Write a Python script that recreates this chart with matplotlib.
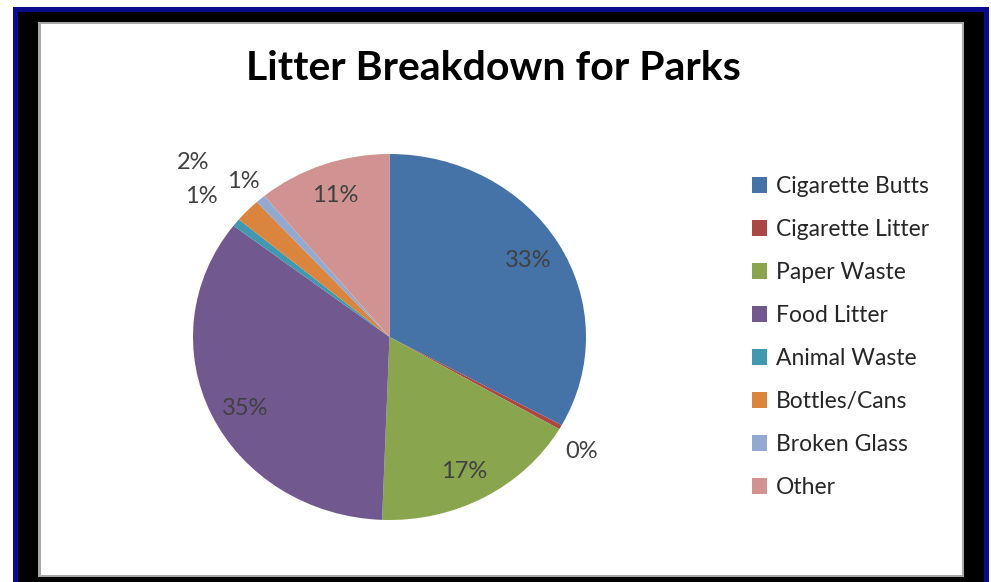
import matplotlib
matplotlib.use("Agg")
import matplotlib.pyplot as plt
from matplotlib.patches import Rectangle
import numpy as np

categories = ["Cigarette Butts", "Cigarette Litter", "Paper Waste", "Food Litter",
              "Animal Waste", "Bottles/Cans", "Broken Glass", "Other"]
values = [33.0, 0.4, 17.2, 34.8, 0.7, 2.1, 0.8, 11.0]
colors = ["#4572A7", "#AA4643", "#89A54E", "#71588F",
          "#4198AF", "#DB843D", "#93A9CF", "#D19392"]
title = "Litter Breakdown for Parks"

# label radii and angle nudges (style)
label_r = [0.82, 1.16, 0.83, 0.83, 1.23, 1.38, 1.13, 0.82]
label_nudge = [0, -3, -1.5, 2.7, 0, 0, 0, 0]

W, H = 991, 582
fig = plt.figure(figsize=(W / 100, H / 100), dpi=100)
fig.patch.set_facecolor("white")

def prect(x0, y0, x1, y1, color, z):
    r = Rectangle((x0 / W, 1 - y1 / H), (x1 - x0) / W, (y1 - y0) / H,
                  transform=fig.transFigure, facecolor=color, edgecolor="none", zorder=z)
    fig.add_artist(r)

prect(13, 7, 989, 600, "#0A0A8C", 0)
prect(18, 12, 984, 600, "#000000", 0.1)
prect(38, 22, 964, 577, "#A8A8A8", 0.2)
prect(41, 24, 962, 575, "#FFFFFF", 0.3)

# pie axes: center (389.5, 337), rx 196.5, ry 183
cx, cy, rx, ry = 389.5, 337.0, 196.5, 183.0
L = 1.3
aw, ah = 2 * L * rx, 2 * L * ry
ax = fig.add_axes([(cx - aw / 2) / W, 1 - (cy + ah / 2) / H, aw / W, ah / H])
ax.set_zorder(2)
wedges, _ = ax.pie(values, colors=colors, startangle=90, counterclock=False,
                   wedgeprops=dict(linewidth=0, antialiased=True))
ax.set_aspect("auto")
ax.set_xlim(-L, L)
ax.set_ylim(-L, L)
ax.axis("off")

total = sum(values)
cum = 0.0
for v, r, nd in zip(values, label_r, label_nudge):
    mid = (cum + v / 2) / total
    cum += v
    ang = np.deg2rad(90 - 360 * mid + nd)
    ax.text(r * np.cos(ang), r * np.sin(ang), f"{v / total * 100:.0f}%",
            ha="center", va="center", fontsize=17, color="#404040",
            family="Lato", clip_on=False)

fig.text(493 / W, 1 - 68 / H, title, ha="center", va="center",
         fontsize=29.5, fontweight="bold", family="Lato", color="#000000", zorder=3)

leg = fig.legend(wedges, categories, loc="center left",
                 bbox_to_anchor=(731 / W, 1 - 337 / H), frameon=False,
                 prop=dict(family="Lato", size=16.5), labelcolor="#262626",
                 handlelength=0.68, handleheight=0.68, handletextpad=0.38,
                 labelspacing=0.96)
leg.set_zorder(3)

fig.savefig("out.png", dpi=100)
